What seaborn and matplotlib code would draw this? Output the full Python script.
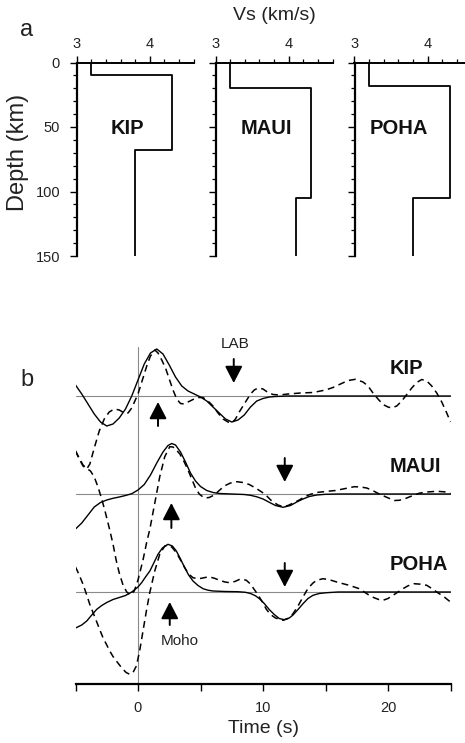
import numpy as np
import pandas as pd
import matplotlib
matplotlib.use("Agg")
import matplotlib.pyplot as plt
from matplotlib.ticker import MultipleLocator
import seaborn as sns

sns.set_theme(style="ticks")
plt.rcParams["font.family"] = ["Liberation Sans", "DejaVu Sans"]

stations = ["KIP", "MAUI", "POHA"]

# ---- layered shear-velocity models: Vs (km/s) and top depth (km) of each layer
kip_vs = [3.2, 4.3, 3.8]
kip_top = [0, 10, 68]
maui_vs = [3.2, 4.3, 4.1]
maui_top = [0, 20, 105]
poha_vs = [3.2, 4.3, 3.8]
poha_top = [0, 18, 105]
model_bottom = 150

models = {"KIP": (kip_vs, kip_top), "MAUI": (maui_vs, maui_top), "POHA": (poha_vs, poha_top)}

# ---- receiver functions: observed (dashed) and synthetic (solid), arbitrary amplitude units
kip_syn_t = [-5.0, -4.5, -4.0, -3.5, -3.0, -2.5, -2.0, -1.5, -1.0, -0.5, 0.0, 0.5, 1.0, 1.5,
             2.0, 2.5, 3.0, 3.5, 4.0, 4.5, 5.0, 5.5, 6.0, 6.5, 7.0, 7.5, 8.0, 8.5, 9.0, 9.5,
             10.0, 10.5, 11.0, 12.0, 25.0]
kip_syn_a = [11, 2, -8, -18, -26, -30, -28, -22, -13, 0, 16, 32, 43, 47,
             42, 31, 19, 10, 5, 2, -1, -5, -11, -17, -23, -26, -24, -19, -11, -5,
             -2.5, -1, -0.5, 0, 0]

kip_obs_t = [-5.0, -4.7, -4.4, -4.1, -3.85, -3.5, -3.1, -2.7, -2.3, -1.9, -1.5, -1.1, -0.8,
             -0.5, -0.25, 0.0, 0.25, 0.5, 0.75, 1.0, 1.35, 1.6, 1.9, 2.2, 2.5, 2.8, 3.1, 3.4,
             3.7, 4.0, 4.4, 4.8, 5.2, 5.6, 6.0, 6.4, 6.8, 7.2, 7.5, 7.8, 8.1, 8.4, 8.7, 9.0,
             9.3, 9.6, 10.0, 10.4, 10.8, 11.3, 12.0, 13.0, 14.0, 15.0, 15.6, 16.2, 16.8, 17.4,
             18.0, 18.4, 18.8, 19.2, 19.6, 20.0, 20.3, 20.7, 21.1, 21.5, 21.9, 22.3, 22.7,
             23.1, 23.5, 23.9, 24.3, 24.7, 25.0]
kip_obs_a = [-55, -63, -70, -73, -68, -52, -35, -23, -16, -13, -14, -17, -17,
             -12, -5, 2, 12, 22, 32, 40, 46, 43, 36, 28, 17, 6, -3, -7.5,
             -8, -6, -3.5, -1.5, -1.5, -5, -10, -17, -23, -26, -27, -23, -16, -10, -4, 2,
             6, 8, 7, 3.5, 1.5, 1, 2, 3, 3.5, 6, 8.5, 12, 15.5, 16.7,
             14, 10, 3, -3, -8.5, -11, -12, -10, -5, 1.5, 8, 13.5, 16.5,
             15, 10, 3, -6, -17, -26]

maui_syn_t = [-5.0, -4.5, -4.0, -3.5, -3.0, -2.5, -2.0, -1.5, -1.0, -0.5, 0.0, 0.5, 1.0, 1.5,
              2.0, 2.4, 2.7, 3.0, 3.4, 3.8, 4.2, 4.6, 5.0, 5.5, 6.0, 6.5, 7.5, 8.5, 9.0,
              9.5, 10.0, 10.5, 11.0, 11.6, 12.2, 12.7, 13.2, 13.7, 14.3, 15.0, 16.0, 25.0]
maui_syn_a = [-35, -29, -21, -13, -8.5, -6, -4.3, -3, -1.5, 0.3, 4, 9.5, 19, 31,
              42, 48.5, 50.5, 49, 42, 32, 21, 13, 7.5, 3.5, 1.5, 0.5, 0, -0.5, -1.3,
              -2.8, -5, -8.3, -11.5, -13.3, -11.5, -8, -5, -2.5, -1, -0.3, 0, 0]

maui_obs_t = [-5.0, -4.7, -4.4, -4.1, -3.8, -3.5, -3.2, -2.9, -2.6, -2.3, -2.0, -1.75, -1.5,
              -1.2, -0.9, -0.6, -0.3, 0.0, 0.4, 0.7, 0.95, 1.34, 1.74, 2.14, 2.54, 2.8,
              3.0, 3.35, 3.7, 4.0, 4.3, 4.6, 4.9, 5.3, 5.7, 6.1, 6.5, 6.9, 7.4, 7.9, 8.4,
              8.9, 9.4, 9.9, 10.3, 10.7, 11.2, 11.6, 12.0, 12.5, 12.9, 13.3, 13.7, 14.3,
              15.0, 15.8, 16.6, 17.3, 17.8, 18.3, 18.8, 19.3, 19.9, 20.5, 20.9, 21.4, 22.0,
              22.5, 23.1, 23.9, 24.5, 25.0]
maui_obs_a = [43, 36, 29, 25.5, 23, 17, 7, -5, -19, -34, -50, -66, -79,
              -91, -98, -101, -97, -86, -66, -48, -35, -9.3, 17.3, 37.3, 47.3, 47,
              45, 40, 32, 24, 15, 6, 0, -4, -3.5, -1, 3.5, 8, 11, 12.3, 11.5,
              9.5, 6, 2, -2, -7, -11, -12.7, -11.5, -8.5, -6, -3, -0.7, 1.5,
              2.5, 3.5, 5.5, 7.3, 7, 6, 3.3, 0, -3.3, -6.5, -6.3, -4.5, -1.5,
              0.8, 2, 2.7, 2.2, 0.5]

poha_syn_t = [-5.0, -4.5, -4.1, -3.7, -3.3, -2.9, -2.5, -2.0, -1.5, -1.0, -0.5, 0.0, 0.3, 0.6,
              0.95, 1.3, 1.6, 1.95, 2.4, 2.75, 3.07, 3.4, 3.74, 4.05, 4.4, 4.8, 5.2, 5.6,
              6.0, 7.0, 8.0, 8.6, 9.0, 9.4, 9.74, 10.1, 10.5, 10.9, 11.3, 11.7, 12.1, 12.4,
              12.8, 13.2, 13.6, 14.0, 14.5, 15.1, 16.0, 25.0]
poha_syn_a = [-36, -33, -29, -23, -17.3, -13.5, -10.5, -7.5, -5.5, -3.5, 0, 5, 9.5, 15,
              21, 30, 37.7, 44, 47.7, 46, 41, 33, 24.3, 17, 11, 6.5, 3.3, 1.8,
              1, 0.5, 0.3, -0.3, -1.5, -3.8, -7, -11.5, -17.5, -22.5, -26.5, -27.7, -26, -23,
              -17.5, -11.7, -6.5, -3.3, -1.5, -0.7, 0, 0]

poha_obs_t = [-5.0, -4.7, -4.4, -4.1, -3.86, -3.6, -3.33, -3.05, -2.8, -2.5, -2.26, -2.0,
              -1.73, -1.45, -1.2, -0.95, -0.66, -0.4, -0.13, 0.13, 0.4, 0.67, 0.94, 1.34,
              1.74, 2.14, 2.4, 2.7, 3.07, 3.4, 3.74, 4.05, 4.4, 4.75, 5.07, 5.4, 5.74, 6.1,
              6.54, 6.95, 7.34, 7.75, 8.14, 8.4, 8.67, 8.95, 9.2, 9.47, 9.74, 10.0, 10.27,
              10.6, 11.0, 11.6, 12.0, 12.4, 12.8, 13.2, 13.5, 13.7, 14.0, 14.3, 14.8, 15.3,
              15.9, 16.4, 16.9, 17.3, 17.7, 18.1, 18.5, 18.9, 19.3, 19.6, 20.0, 20.4, 20.8,
              21.2, 21.6, 22.1, 22.6, 23.1, 23.5, 23.9, 24.2, 24.5, 25.0]
poha_obs_a = [25, 17, 7.7, -3, -12.3, -20.5, -29, -38, -45.7, -53, -59, -64.5,
              -69, -73.5, -77.3, -80.5, -82.3, -80.5, -74, -59, -39, -19, -0.7, 21,
              37.7, 46, 47, 45, 39.3, 32, 24.3, 18, 14.3, 13.3, 13.7, 14.6, 15, 13.8,
              11.7, 10, 9.3, 10.5, 12.7, 12.6, 11.7, 8.5, 4.3, -0.5, -5.7, -11, -17.3,
              -22.5, -26, -28.3, -26.5, -21.7, -14, -5, 1.5, 5, 9, 11.7, 13.3, 12.3,
              10, 8.3, 6.7, 5, 3.3, 0, -3.3, -5.8, -7.7, -8.3, -6.5, -3.3, 0,
              3.3, 6.2, 8.3, 7.8, 6.7, 3.5, 0, -2.5, -5, -10]

traces = {
    "KIP": ((kip_obs_t, kip_obs_a), (kip_syn_t, kip_syn_a)),
    "MAUI": ((maui_obs_t, maui_obs_a), (maui_syn_t, maui_syn_a)),
    "POHA": ((poha_obs_t, poha_obs_a), (poha_syn_t, poha_syn_a)),
}
trace_offset = {"KIP": 2.0, "MAUI": 1.0, "POHA": 0.0}
gain = 1.0 / 98.0

# Moho (up) and LAB (down) arrival marks: time (s)
moho_t = {"KIP": 1.6, "MAUI": 2.67, "POHA": 2.54}
lab_t = {"KIP": 7.66, "MAUI": 11.74, "POHA": 11.74}

W, H = 465, 743
fig = plt.figure(figsize=(W / 100, H / 100), dpi=100)


def fx(px):
    return px / W


def fy(py):
    return 1 - py / H


# ---------------- panel a: velocity models ----------------
panel_left = [76.7, 215.5, 354.5]
for i, st in enumerate(stations):
    ax = fig.add_axes([fx(panel_left[i]), fy(256), 117 / W, (256 - 62.5) / H])
    vs, top = models[st]
    bottoms = top[1:] + [model_bottom]
    xs, ys = [], []
    for v, t0, t1 in zip(vs, top, bottoms):
        xs += [v, v]
        ys += [t0, t1]
    prof = pd.DataFrame({"vs": xs, "depth": ys})
    sns.lineplot(data=prof, x="vs", y="depth", sort=False, estimator=None,
                 color="black", lw=1.3, ax=ax)
    ax.set_xlim(3, 4.6)
    ax.set_ylim(150, 0)
    ax.xaxis.tick_top()
    ax.set_xticks([3, 4])
    ax.xaxis.set_minor_locator(MultipleLocator(0.2))
    ax.set_yticks([0, 50, 100, 150])
    ax.yaxis.set_minor_locator(MultipleLocator(10))
    ax.tick_params(axis="both", which="major", length=5, width=1.0, direction="out",
                   labelsize=10.5, pad=3, color="black", labelcolor="#222222")
    ax.tick_params(axis="y", which="major", pad=7)
    ax.tick_params(axis="both", which="minor", length=3, width=0.9, direction="out",
                   color="black")
    ax.tick_params(axis="x", which="both", top=True, bottom=False)
    for side in ("right", "bottom"):
        ax.spines[side].set_visible(False)
    ax.spines["left"].set_linewidth(1.6)
    ax.spines["top"].set_linewidth(1.4)
    ax.spines["left"].set_color("black")
    ax.spines["top"].set_color("black")
    ax.set_xlabel("")
    ax.set_ylabel("")
    if i > 0:
        ax.set_yticklabels([])
    lab_x = 3.6 if st == "POHA" else 3.69
    ax.text(lab_x, 51, st, ha="center", va="center", fontsize=14.5,
            fontweight="bold", color="#111111")
    ax.patch.set_alpha(0)

fig.text(fx(274), fy(15), "Vs (km/s)", ha="center", va="center", fontsize=14,
         color="#222222")
fig.text(fx(18), fy(152), "Depth (km)", ha="center", va="center", rotation=90,
         fontsize=17, color="#222222")
fig.text(fx(27), fy(30), "a", ha="center", va="center", fontsize=17, color="#222222")

# ---------------- panel b: receiver functions ----------------
axb = fig.add_axes([fx(75.5), fy(684), 375 / W, (684 - 347) / H])
rows = []
for st in stations:
    (ot, oa), (stt, sa) = traces[st]
    for t, a in zip(ot, oa):
        rows.append((st, "observed", t, trace_offset[st] + a * gain))
    for t, a in zip(stt, sa):
        rows.append((st, "synthetic", t, trace_offset[st] + a * gain))
rf = pd.DataFrame(rows, columns=["station", "kind", "time", "y"])

for st in stations:
    axb.axhline(trace_offset[st], color="#8a8a8a", lw=0.8, zorder=1)
axb.axvline(0, color="#8a8a8a", lw=0.8, zorder=1)

for st in stations:
    sub = rf[rf.station == st]
    sns.lineplot(data=sub[sub.kind == "synthetic"], x="time", y="y", sort=False,
                 estimator=None, color="black", lw=1.0, ax=axb, zorder=3)
    sns.lineplot(data=sub[sub.kind == "observed"], x="time", y="y", sort=False,
                 estimator=None, color="black", lw=1.1, ax=axb, zorder=3,
                 linestyle=(0, (4.5, 3)))

arrow_kw = dict(arrowstyle="-|>,head_length=0.85,head_width=0.44", color="black",
                lw=1.4, shrinkA=0, shrinkB=0)
moho_rel = {"KIP": (-30, -6), "MAUI": (-34, -9), "POHA": (-33, -10)}
lab_rel = {"KIP": (37, 13), "MAUI": (36, 12), "POHA": (29, 5)}
for st in stations:
    o = trace_offset[st]
    t = moho_t[st]
    a0, a1 = moho_rel[st]
    axb.annotate("", xy=(t, o + a1 * gain), xytext=(t, o + a0 * gain), arrowprops=arrow_kw)
    t = lab_t[st]
    a0, a1 = lab_rel[st]
    axb.annotate("", xy=(t, o + a1 * gain), xytext=(t, o + a0 * gain), arrowprops=arrow_kw)
    axb.text(20.1, o + 28 * gain, st, ha="left", va="center", fontsize=14.5,
             fontweight="bold", color="#111111")

axb.text(7.8, trace_offset["KIP"] + 52 * gain, "LAB", ha="center", va="center",
         fontsize=11, color="#222222")
axb.text(3.3, trace_offset["POHA"] - 49 * gain, "Moho", ha="center", va="center",
         fontsize=11, color="#222222")

axb.set_xlim(-5, 25)
axb.set_ylim((592 - 684) / 98, (592 - 347) / 98)
axb.set_xticks(range(-5, 26, 5))
axb.set_xticklabels(["" if v % 10 else str(v) for v in range(-5, 26, 5)])
axb.tick_params(axis="x", length=5, width=1.0, direction="out", labelsize=10.5,
                pad=7, color="black", labelcolor="#222222")
axb.set_yticks([])
for side in ("left", "right", "top"):
    axb.spines[side].set_visible(False)
axb.spines["bottom"].set_linewidth(1.6)
axb.spines["bottom"].set_color("black")
axb.set_xlabel("Time (s)", fontsize=14, color="#222222", labelpad=4)
axb.set_ylabel("")
axb.patch.set_alpha(0)

fig.text(fx(27), fy(380), "b", ha="center", va="center", fontsize=17, color="#222222")

fig.savefig("out.png", dpi=100)
